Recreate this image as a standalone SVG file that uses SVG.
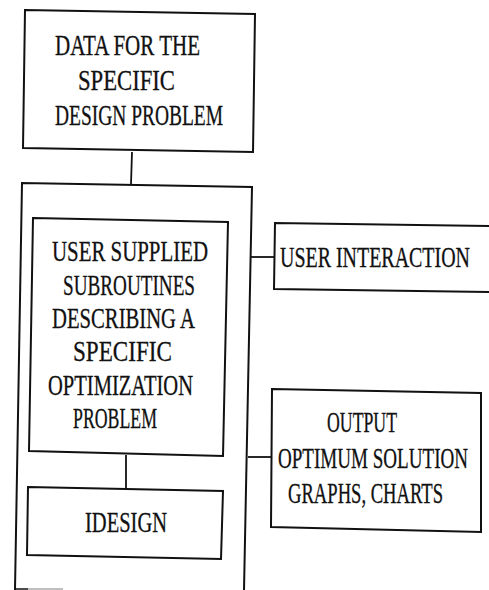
<svg xmlns="http://www.w3.org/2000/svg" width="489" height="590" viewBox="0 0 489 590">
<style>
.box{fill:none;stroke:#111;stroke-width:2;stroke-linejoin:miter}
.ln{fill:none;stroke:#111;stroke-width:1.8}
text{font-family:"Liberation Serif","Times New Roman",serif;font-size:29px;fill:#111;stroke:#111;stroke-width:0.3}
</style>
<rect width="489" height="590" fill="#fff"/>
<g id="connectors">
<path class="ln" d="M132,152 L131,184"/>
<path class="ln" d="M126,455 L126,488"/>
<path class="ln" d="M251,257 L274,257"/>
<path class="ln" d="M248,457 L272,457"/>
</g>
<g id="data-box">
<polygon class="box" points="25,10 255,14 253,152 23,148"/>
<text x="55" y="55" textLength="145" lengthAdjust="spacingAndGlyphs">DATA FOR THE</text>
<text x="78" y="90" textLength="97" lengthAdjust="spacingAndGlyphs">SPECIFIC</text>
<text x="55" y="125" textLength="168" lengthAdjust="spacingAndGlyphs">DESIGN PROBLEM</text>
</g>
<g id="outer-box">
<path class="box" d="M15,590 L22,183 L252,187 L244,590"/>
<path d="M15,589 L28,589" stroke="#111" stroke-width="1.5"/>
<path d="M28,589 L63,589" stroke="#aaa" stroke-width="1.5"/>
</g>
<g id="user-subroutines">
<polygon class="box" points="33,218 228,222 223,456 29,451"/>
<text x="52" y="261" textLength="156" lengthAdjust="spacingAndGlyphs">USER SUPPLIED</text>
<text x="63" y="295" textLength="132" lengthAdjust="spacingAndGlyphs">SUBROUTINES</text>
<text x="52" y="328" textLength="143" lengthAdjust="spacingAndGlyphs">DESCRIBING A</text>
<text x="73" y="361" textLength="99" lengthAdjust="spacingAndGlyphs">SPECIFIC</text>
<text x="48" y="395" textLength="145" lengthAdjust="spacingAndGlyphs">OPTIMIZATION</text>
<text x="73" y="428" textLength="84" lengthAdjust="spacingAndGlyphs">PROBLEM</text>
</g>
<g id="idesign">
<polygon class="box" points="28,487 223,491 221,559 27,555"/>
<text x="85" y="532" textLength="82" lengthAdjust="spacingAndGlyphs">IDESIGN</text>
</g>
<g id="user-interaction">
<path class="box" d="M489,226 L275,223 L274,289 L489,292"/>
<text x="280" y="267" textLength="190" lengthAdjust="spacingAndGlyphs">USER INTERACTION</text>
</g>
<g id="output">
<polygon class="box" points="272,389 481,393 481,532 271,527"/>
<text x="327" y="432" textLength="70" lengthAdjust="spacingAndGlyphs">OUTPUT</text>
<text x="278" y="468" textLength="190" lengthAdjust="spacingAndGlyphs">OPTIMUM SOLUTION</text>
<text x="288" y="503" textLength="155" lengthAdjust="spacingAndGlyphs">GRAPHS, CHARTS</text>
</g>
</svg>
